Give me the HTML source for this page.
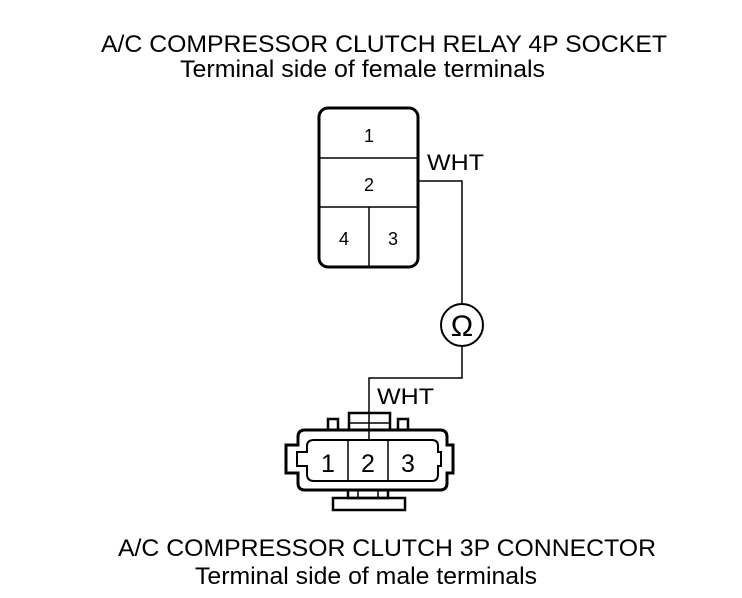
<!DOCTYPE html>
<html><head><style>body{margin:0;background:#fff}svg{display:block}</style></head>
<body>
<svg width="742" height="598" viewBox="0 0 742 598" xmlns="http://www.w3.org/2000/svg" font-family="Liberation Sans, sans-serif" fill="none" stroke="#000">
<g fill="#000" stroke="none" font-size="24">
<text x="101" y="52" textLength="566" lengthAdjust="spacingAndGlyphs">A/C COMPRESSOR CLUTCH RELAY 4P SOCKET</text>
<text x="180" y="77" textLength="365" lengthAdjust="spacingAndGlyphs">Terminal side of female terminals</text>
<text x="118" y="556" textLength="538" lengthAdjust="spacingAndGlyphs">A/C COMPRESSOR CLUTCH 3P CONNECTOR</text>
<text x="195" y="584" textLength="342" lengthAdjust="spacingAndGlyphs">Terminal side of male terminals</text>
<text x="427" y="170" font-size="22" textLength="57" lengthAdjust="spacingAndGlyphs">WHT</text>
<text x="377" y="404" font-size="22" textLength="57" lengthAdjust="spacingAndGlyphs">WHT</text>
<text x="369" y="142" font-size="18" text-anchor="middle">1</text>
<text x="369" y="191" font-size="18" text-anchor="middle">2</text>
<text x="344" y="245" font-size="18" text-anchor="middle">4</text>
<text x="393" y="245" font-size="18" text-anchor="middle">3</text>
<text x="328" y="472" font-size="25" text-anchor="middle">1</text>
<text x="368" y="472" font-size="25" text-anchor="middle">2</text>
<text x="408" y="472" font-size="25" text-anchor="middle">3</text>
<text x="462" y="336" font-size="30" text-anchor="middle">Ω</text>
</g>
<rect x="319" y="108" width="99" height="159" rx="9" stroke-width="3"/>
<line x1="319" y1="158" x2="418" y2="158" stroke-width="1.5"/>
<line x1="319" y1="207" x2="418" y2="207" stroke-width="1.5"/>
<line x1="369" y1="207" x2="369" y2="267" stroke-width="1.5"/>
<polyline points="418,181 462,181 462,304" stroke-width="1.5"/>
<circle cx="462" cy="325" r="21" stroke-width="2"/>
<polyline points="462,346 462,378 369,378 369,440" stroke-width="1.5"/>
<path d="M298,437 Q298,430 305,430 L440,430 Q447,430 447,437 L447,445 L453,445 L453,473 L447,473 L447,483 Q447,490 440,490 L305,490 Q298,490 298,483 L298,473 L286,473 L286,445 L298,445 Z" stroke-width="3"/>
<path d="M314,440 L432,440 Q438,440 438,446 L438,452 L441,452 L441,466 L438,466 L438,474 Q438,481 432,481 L314,481 Q307,481 307,474 L307,466 L297,466 L297,452 L307,452 L307,446 Q307,440 314,440 Z" stroke-width="2"/>
<line x1="348" y1="440" x2="348" y2="481" stroke-width="1.5"/>
<line x1="388" y1="440" x2="388" y2="481" stroke-width="1.5"/>
<rect x="328" y="419" width="10" height="11" stroke-width="2.5"/>
<rect x="398" y="419" width="10" height="11" stroke-width="2.5"/>
<rect x="349" y="413" width="41" height="17" stroke-width="2.5"/>
<line x1="349" y1="423" x2="390" y2="423" stroke-width="1.5"/>
<rect x="348" y="490" width="40" height="8" stroke-width="2.5"/>
<rect x="358" y="490" width="20" height="8" stroke-width="1.5"/>
<rect x="333" y="498" width="72" height="12" stroke-width="2.5"/>
</svg>
</body></html>
